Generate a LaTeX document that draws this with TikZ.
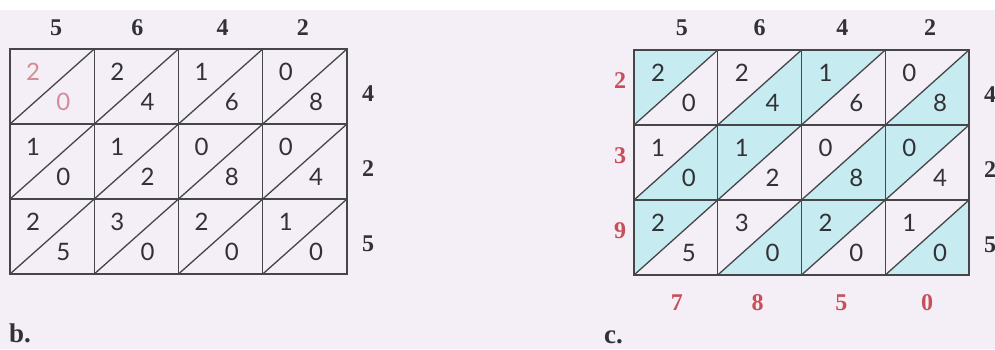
\documentclass[tikz,border=0pt]{standalone}
\usepackage{fontspec}
\setmainfont{Liberation Serif}
\newfontfamily\celldigits{Lato}
\definecolor{bg}{RGB}{244,238,246}
\definecolor{lineg}{RGB}{70,70,72}
\definecolor{digit}{RGB}{50,50,54}
\definecolor{labred}{RGB}{200,78,88}
\definecolor{fadered}{RGB}{214,140,150}
\definecolor{cyanfill}{RGB}{198,236,242}
\tikzset{
  gridline/.style={draw=lineg, line width=1.3pt},
  celldigit/.style={inner sep=0pt, font=\celldigits\fontsize{24}{24}\selectfont},
  sidelabel/.style={inner sep=0pt, font=\fontsize{24}{24}\selectfont\bfseries, text=digit},
  redlabel/.style={inner sep=0pt, font=\fontsize{24}{24}\selectfont\bfseries, text=labred},
  partlabel/.style={inner sep=0pt, font=\fontsize{27}{27}\selectfont\bfseries, text=digit}
}
\begin{document}
\begin{tikzpicture}[x=1pt,y=-1pt]
\useasboundingbox (0,0) rectangle (995,349);
\clip (0,0) rectangle (995,349);
\fill[white] (0,0) rectangle (995,349);
\fill[bg] (0,10) rectangle (995,349);
% ---------------- left grid (b) ----------------
\def\LX{10}\def\LY{49}\def\LW{84.25}\def\LH{75}
\foreach \r/\c/\u/\l/\col in {1/1/2/0/fadered,1/2/2/4/digit,1/3/1/6/digit,1/4/0/8/digit,
  2/1/1/0/digit,2/2/1/2/digit,2/3/0/8/digit,2/4/0/4/digit,
  3/1/2/5/digit,3/2/3/0/digit,3/3/2/0/digit,3/4/1/0/digit}{
  \node[celldigit, text=\col] (Lu\r\c) at ({\LX+(\c-1)*\LW+23},{\LY+(\r-1)*\LH+23}) {\u};
  \node[celldigit, text=\col] (Ll\r\c) at ({\LX+\c*\LW-31},{\LY+\r*\LH-22}) {\l};
}
\draw[gridline] (\LX,\LY) rectangle ({\LX+4*\LW},{\LY+3*\LH});
\foreach \c in {1,2,3}{\draw[gridline] ({\LX+\c*\LW},\LY) -- ({\LX+\c*\LW},{\LY+3*\LH});}
\foreach \r in {1,2}{\draw[gridline] (\LX,{\LY+\r*\LH}) -- ({\LX+4*\LW},{\LY+\r*\LH});}
\foreach \r in {1,2,3}{\foreach \c in {1,...,4}{
  \draw[gridline] ({\LX+(\c-1)*\LW},{\LY+\r*\LH}) -- ({\LX+\c*\LW},{\LY+(\r-1)*\LH});}}
\foreach \c/\v/\dx in {1/5/4,2/6/1,3/4/2,4/2/-2}{
  \node[sidelabel] (Lt\c) at ({\LX+(\c-0.5)*\LW+\dx},28) {\v};}
\foreach \r/\v in {1/4,2/2,3/5}{
  \node[sidelabel] (Ls\r) at (368,{\LY+(\r-0.5)*\LH+7}) {\v};}
\node[partlabel, anchor=west] (bl) at (9,333) {b.};
% ---------------- right grid (c) ----------------
\def\RX{634}\def\RY{50}\def\RW{83.75}\def\RH{75}
\foreach \r in {1,2,3}{\foreach \c in {1,...,4}{
  \pgfmathtruncatemacro\parity{mod(\r+\c,2)}
  \ifnum\parity=0
    \fill[cyanfill] ({\RX+(\c-1)*\RW},{\RY+(\r-1)*\RH}) -- ({\RX+\c*\RW},{\RY+(\r-1)*\RH}) -- ({\RX+(\c-1)*\RW},{\RY+\r*\RH}) -- cycle;
  \else
    \fill[cyanfill] ({\RX+\c*\RW},{\RY+(\r-1)*\RH}) -- ({\RX+\c*\RW},{\RY+\r*\RH}) -- ({\RX+(\c-1)*\RW},{\RY+\r*\RH}) -- cycle;
  \fi
}}
\foreach \r/\c/\u/\l in {1/1/2/0,1/2/2/4,1/3/1/6,1/4/0/8,
  2/1/1/0,2/2/1/2,2/3/0/8,2/4/0/4,
  3/1/2/5,3/2/3/0,3/3/2/0,3/4/1/0}{
  \node[celldigit, text=digit] (Ru\r\c) at ({\RX+(\c-1)*\RW+24},{\RY+(\r-1)*\RH+23}) {\u};
  \node[celldigit, text=digit] (Rl\r\c) at ({\RX+\c*\RW-29},{\RY+\r*\RH-22}) {\l};
}
\draw[gridline] (\RX,\RY) rectangle ({\RX+4*\RW},{\RY+3*\RH});
\foreach \c in {1,2,3}{\draw[gridline] ({\RX+\c*\RW},\RY) -- ({\RX+\c*\RW},{\RY+3*\RH});}
\foreach \r in {1,2}{\draw[gridline] (\RX,{\RY+\r*\RH}) -- ({\RX+4*\RW},{\RY+\r*\RH});}
\foreach \r in {1,2,3}{\foreach \c in {1,...,4}{
  \draw[gridline] ({\RX+(\c-1)*\RW},{\RY+\r*\RH}) -- ({\RX+\c*\RW},{\RY+(\r-1)*\RH});}}
\foreach \c/\v/\dx in {1/5/6,2/6/0,3/4/-1,4/2/3}{
  \node[sidelabel] (Rt\c) at ({\RX+(\c-0.5)*\RW+\dx},28) {\v};}
\foreach \r/\v in {1/4,2/2,3/5}{
  \node[sidelabel] (Rs\r) at (990,{\RY+(\r-0.5)*\RH+7}) {\v};}
\foreach \r/\v in {1/2,2/3,3/9}{
  \node[redlabel] (Rp\r) at (620,{\RY+(\r-0.5)*\RH-7}) {\v};}
\foreach \c/\v/\dx in {1/7/1,2/8/-2,3/5/-2,4/0/0}{
  \node[redlabel] (Rb\c) at ({\RX+(\c-0.5)*\RW+\dx},303) {\v};}
\node[partlabel, anchor=west] (cl) at (604,337) {c.};
\end{tikzpicture}
\end{document}
